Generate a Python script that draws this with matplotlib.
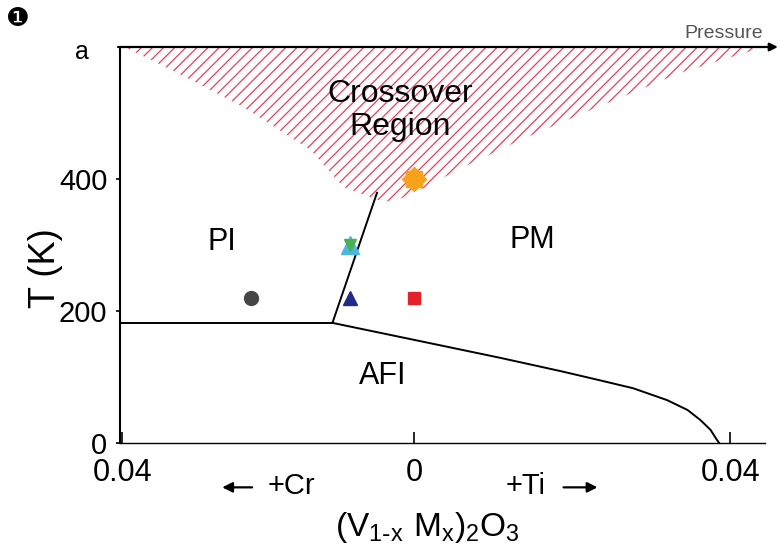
import numpy as np
import matplotlib
matplotlib.use("Agg")
import matplotlib.pyplot as plt

plt.rcParams["font.family"] = ["Liberation Sans", "DejaVu Sans"]
plt.rcParams["mathtext.default"] = "regular"
plt.rcParams["hatch.linewidth"] = 0.9

# 相圖資料 (x: 負 = +Cr, 正 = +Ti)
triple_x, triple_T = -0.0112, 182

# PI / AFI 邊界 (水平線)
pi_afi_x = [-0.0401, triple_x]
pi_afi_T = [182, 182]

# PI / PM 邊界
pi_pm_x = [triple_x, -0.0051]
pi_pm_T = [182, 379]

# AFI / PM 邊界
afi_pm_x = [triple_x, 0.0033, 0.0109, 0.0185, 0.0235, 0.0277, 0.0320, 0.0346, 0.0362, 0.0375, 0.0383, 0.0386]
afi_pm_T = [182, 148, 129, 109, 95, 83, 65, 50, 35, 20, 5, 0]

# Crossover 區域下緣
cross_x = [-0.0403, -0.0393, -0.0325, -0.0234, -0.0142, -0.0097, -0.0042, -0.0010, 0.0062, 0.0134, 0.0232, 0.0337, 0.0429, 0.0444]
cross_T = [600, 598, 561, 509, 444, 388, 365, 373, 418, 459, 509, 561, 595, 600]

# 量測點
circle_pt = (-0.0223, 220)
tri_pt = (-0.0088, 220)
square_pt = (0.0, 220)
hexa_pt = (-0.0088, 300)
orange_pt = (0.0, 400)

x_ticks = [-0.04, 0, 0.04]
x_labels = ["0.04", "0", "0.04"]
y_ticks = [0, 200, 400]


def fwd(x):
    x = np.asarray(x, dtype=float)
    return np.where(x < 0, x / 0.04 * 292, x / 0.04 * 316)


def inv(p):
    p = np.asarray(p, dtype=float)
    return np.where(p < 0, p * 0.04 / 292, p * 0.04 / 316)


fig = plt.figure(figsize=(7.8, 5.47), dpi=100)
ax = fig.add_axes([120 / 780, 1 - 443 / 547, 645 / 780, 396 / 547])
ax.set_xscale("function", functions=(fwd, inv))
ax.set_xlim(-0.0403, 0.0444)
ax.set_ylim(0, 600)

# Crossover 區域斜線
ax.fill_between(cross_x, cross_T, 600, facecolor="none", edgecolor="#ea3f58",
                linewidth=0, hatch="///")

# 相邊界
ax.plot(pi_afi_x, pi_afi_T, color="black", lw=1.4)
ax.plot(pi_pm_x, pi_pm_T, color="black", lw=1.4)
ax.plot(afi_pm_x, afi_pm_T, color="black", lw=1.4)

# 標記點
ax.plot(*circle_pt, "o", color="#454545", ms=10)
ax.plot(*tri_pt, "^", color="#1f2a8c", ms=10)
ax.plot(*square_pt, "s", color="#e32129", ms=9)
ax.plot(*hexa_pt, "^", color="#4cb6e6", ms=13)
ax.plot(*hexa_pt, "v", color="#4caf50", ms=9)
ax.plot(*orange_pt, "s", color="#f7a21b", ms=11)
ax.plot(*orange_pt, "D", color="#f7a21b", ms=12)

# 區域文字
ax.text(-0.0019, 504, "Crossover\nRegion", ha="center", va="center", fontsize=23, linespacing=1.15)
ax.text(-0.0263, 305, "PI", ha="center", va="center", fontsize=22)
ax.text(0.0149, 307, "PM", ha="center", va="center", fontsize=22)
ax.text(-0.0043, 102, "AFI", ha="center", va="center", fontsize=22)

# 座標軸樣式
for s in ["top", "right"]:
    ax.spines[s].set_visible(False)
ax.spines["left"].set_linewidth(1.5)
ax.spines["bottom"].set_linewidth(1.0)
ax.set_xticks(x_ticks)
ax.set_xticklabels(x_labels)
ax.set_yticks(y_ticks)
ax.tick_params(axis="x", direction="in", length=8, width=1.2, pad=11, labelsize=22)
ax.tick_params(axis="y", direction="out", length=3, width=1.2, pad=6, labelsize=21)

# 上方壓力箭頭
ax.annotate("", xy=(1.02, 1), xytext=(-0.003, 1), xycoords="axes fraction",
            arrowprops=dict(arrowstyle="-|>", lw=1.6, color="black", mutation_scale=12,
                            shrinkA=0, shrinkB=0))
ax.text(0.997, 1.035, "Pressure", transform=ax.transAxes, ha="right", va="center",
        fontsize=14, color="#555555")

# 下方文字與箭頭
trans = ax.get_xaxis_transform()
ax.text(-0.01685, -0.108, "+Cr", transform=trans, ha="center", va="center", fontsize=21)
ax.text(0.01405, -0.108, "+Ti", transform=trans, ha="center", va="center", fontsize=21)
arrow_kw = dict(arrowstyle="-|>", lw=1.6, color="black", mutation_scale=15, shrinkA=0, shrinkB=0)
ax.annotate("", xy=(-0.0263, -0.112), xytext=(-0.0222, -0.112), xycoords=trans, arrowprops=arrow_kw)
ax.annotate("", xy=(0.0232, -0.112), xytext=(0.0189, -0.112), xycoords=trans, arrowprops=arrow_kw)
ax.text(0.476, -0.214, "$(V_{1\\text{-}x}\\ M_x)_2O_3$", transform=ax.transAxes,
        ha="center", va="center", fontsize=24)
ax.text(-0.116, 0.442, "T (K)", transform=ax.transAxes, rotation=90,
        ha="center", va="center", fontsize=26)

fig.text(0.105, 0.905, "a", ha="center", va="center", fontsize=18)
fig.text(0.023, 0.965, "\u2776", ha="center", va="center", fontsize=19,
         family=["DejaVu Sans"])

fig.savefig("out.png", dpi=100)
